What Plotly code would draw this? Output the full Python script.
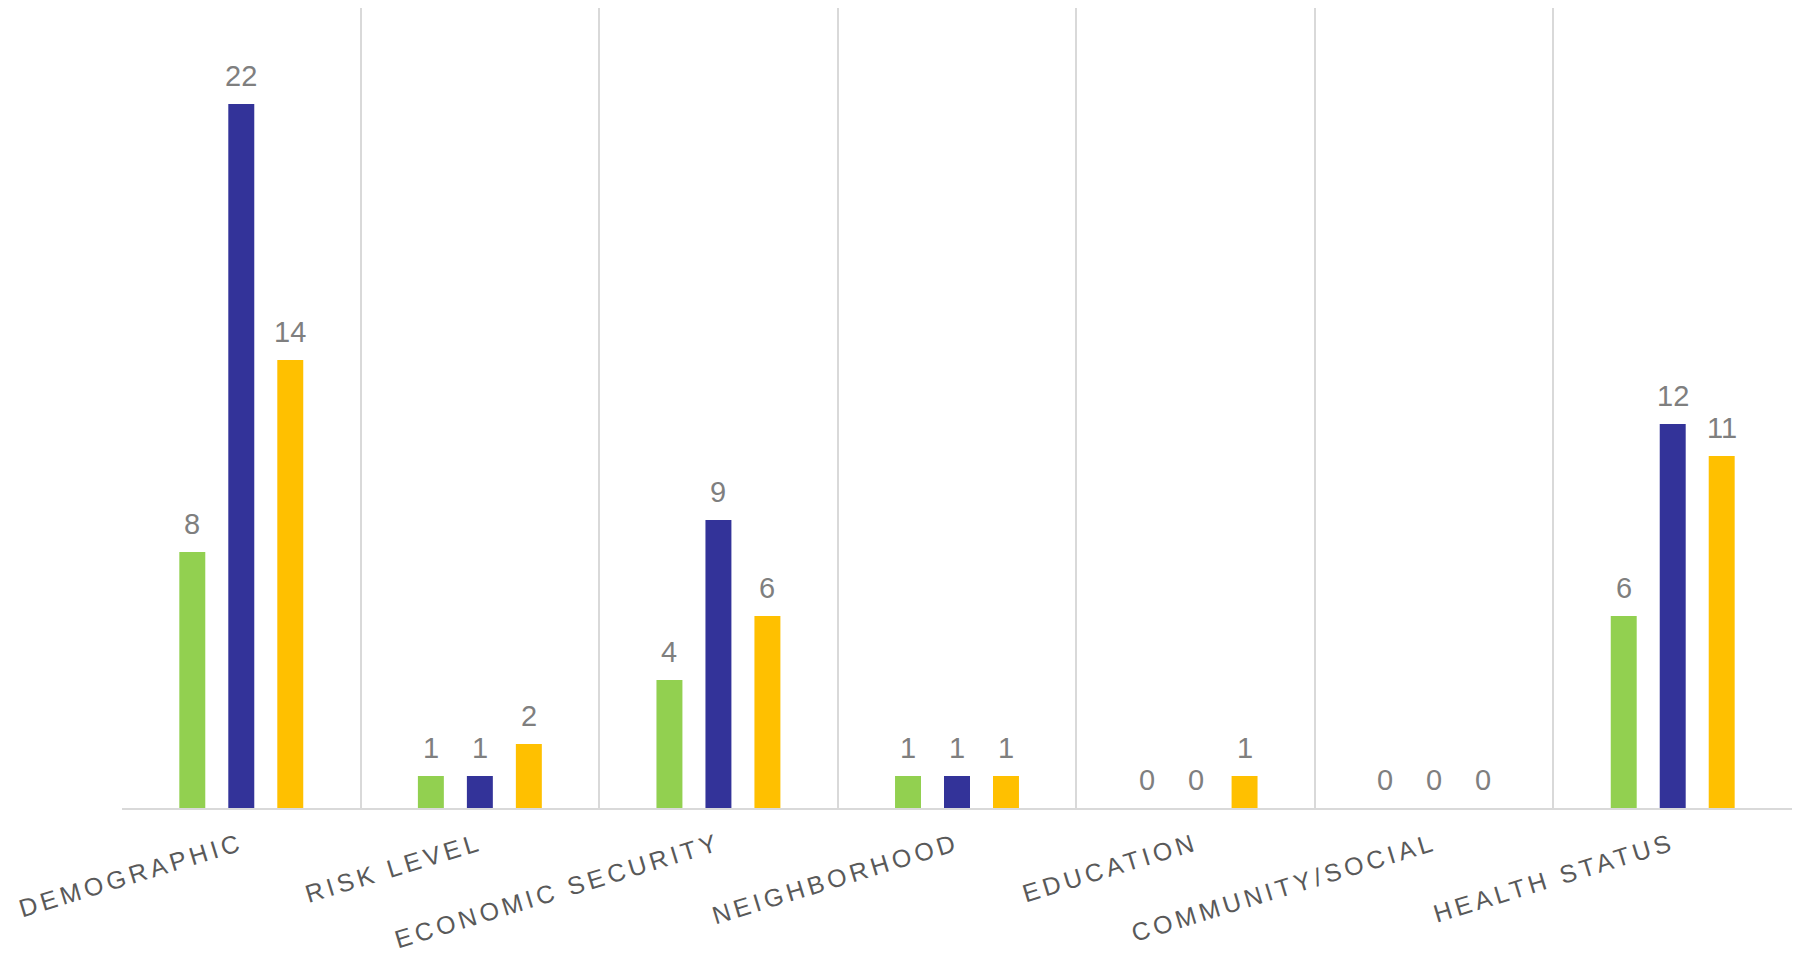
import plotly.graph_objects as go

categories = ["DEMOGRAPHIC", "RISK LEVEL", "ECONOMIC SECURITY", "NEIGHBORHOOD",
              "EDUCATION", "COMMUNITY/SOCIAL", "HEALTH STATUS"]
series_green = [8, 1, 4, 1, 0, 0, 6]
series_blue = [22, 1, 9, 1, 0, 0, 12]
series_yellow = [14, 2, 6, 1, 1, 0, 11]

series = [("Series 1", series_green, "#92D050"),
          ("Series 2", series_blue, "#333399"),
          ("Series 3", series_yellow, "#FFC000")]

W, H = 1793, 959
ML, MR, MT, MB = 122, 1, 8, 151
plot_w = W - ML - MR
cat_w = plot_w / len(categories)
bargap = 0.384
slot = cat_w * (1 - bargap) / len(series)

fig = go.Figure()
for name, vals, color in series:
    fig.add_trace(go.Bar(x=categories, y=vals, name=name, marker_color=color,
                         marker_line_width=0))

annotations = []
for i, (name, vals, color) in enumerate(series):
    for c, v in zip(categories, vals):
        annotations.append(dict(x=c, y=v, text=str(v), showarrow=False,
                                xref="x", yref="y", yanchor="bottom",
                                xshift=(i - 1) * slot, yshift=10,
                                font=dict(family="Liberation Sans, Arial", size=29, color="#7F7F7F")))

fig.update_layout(
    width=W, height=H,
    margin=dict(l=ML, r=MR, t=MT, b=MB, pad=0),
    paper_bgcolor="white", plot_bgcolor="white",
    barmode="group", bargap=bargap, bargroupgap=0.47,
    showlegend=False,
    annotations=annotations,
    xaxis=dict(tickson="boundaries", showgrid=True, gridcolor="#D9D9D9", gridwidth=1.5,
               showline=True, linecolor="#D9D9D9", linewidth=2, ticks="",
               tickangle=-17, ticklabelstandoff=10,
               tickfont=dict(family="Liberation Sans, Arial", size=25, color="#595959")),
    yaxis=dict(range=[0, 25], showgrid=False, showticklabels=False, zeroline=False,
               showline=False, ticks=""),
)

post = ("var s=document.createElement('style');"
        "s.textContent='body{margin:0;overflow:hidden}.xtick text{letter-spacing:4px}';"
        "document.head.appendChild(s);")
fig.write_html("out.html", post_script=post, config={"displayModeBar": False})
